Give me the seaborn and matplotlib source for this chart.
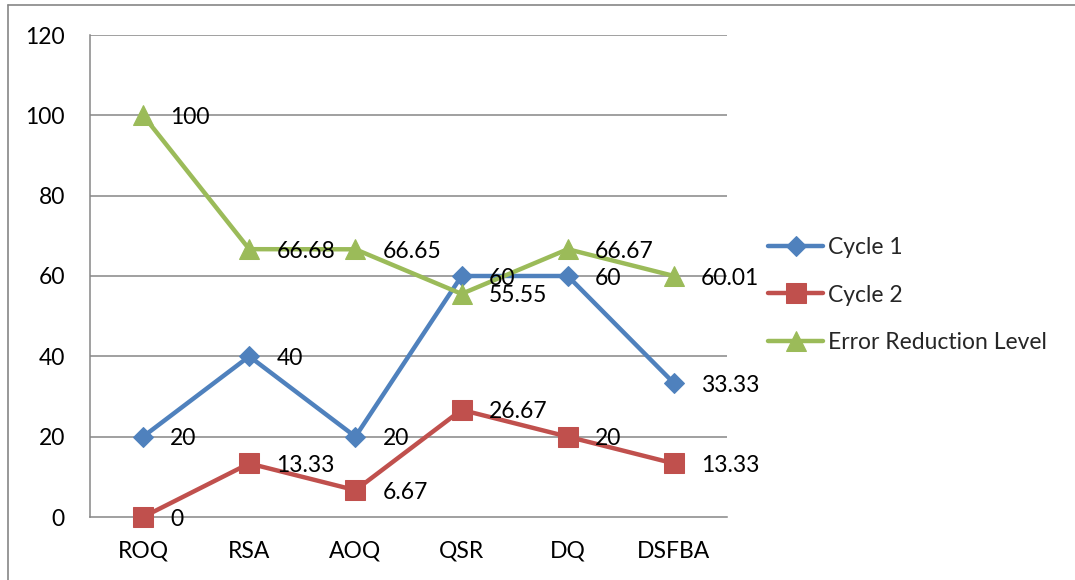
import matplotlib
matplotlib.use("Agg")
import matplotlib.pyplot as plt
from matplotlib.lines import Line2D
import seaborn as sns
import pandas as pd

categories = ["ROQ", "RSA", "AOQ", "QSR", "DQ", "DSFBA"]
cycle1 = [20, 40, 20, 60, 60, 33.33]
cycle2 = [0, 13.33, 6.67, 26.67, 20, 13.33]
error_reduction = [100, 66.68, 66.65, 55.55, 66.67, 60.01]
y_ticks = [0, 20, 40, 60, 80, 100, 120]

series = [
    ("Cycle 1", cycle1, "#4F81BD", "D", 10),
    ("Cycle 2", cycle2, "#C0504D", "s", 14),
    ("Error Reduction Level", error_reduction, "#9BBB59", "^", 14.5),
]

sns.set_theme(style="white")
plt.rcParams["font.family"] = ["Lato", "DejaVu Sans"]

W, H = 1075, 580
fig = plt.figure(figsize=(W / 100, H / 100), dpi=100)
ax = fig.add_axes([90 / W, 1 - 517 / H, (727 - 90) / W, (517 - 35) / H])

grid_color = "#868686"
pos = list(range(len(categories)))
fs = 16.5

for name, vals, color, marker, ms in series:
    df = pd.DataFrame({"x": pos, "y": vals})
    sns.lineplot(data=df, x="x", y="y", ax=ax, color=color, marker=marker,
                 markersize=ms, markeredgecolor=color, linewidth=3.2,
                 label=name, solid_capstyle="round", zorder=3, clip_on=False)
    for xi, v in zip(pos, vals):
        ax.annotate(f"{v:g}", (xi, v), xytext=(19.5, -1.5), textcoords="offset points",
                    va="center", ha="left", fontsize=fs, color="black", zorder=4)

ax.set_xlim(-0.5, len(categories) - 0.5)
ax.set_ylim(0, 120)
ax.set_yticks(y_ticks)
ax.set_yticklabels([str(t) for t in y_ticks])
ax.set_xticks(pos)
ax.set_xticklabels(categories)
ax.set_xlabel("")
ax.set_ylabel("")
ax.tick_params(axis="y", length=0, pad=18, labelsize=fs, labelcolor="black")
ax.tick_params(axis="x", length=0, pad=17, labelsize=fs, labelcolor="black")

for y in y_ticks[1:]:
    ax.axhline(y, color=grid_color, linewidth=1.1, zorder=1)
for side in ("top", "right"):
    ax.spines[side].set_visible(False)
for side in ("left", "bottom"):
    ax.spines[side].set_color(grid_color)
    ax.spines[side].set_linewidth(1.1)
    ax.spines[side].set_zorder(1)

ax.legend(loc="center left", bbox_to_anchor=(768 / W, 1 - 295 / H),
          bbox_transform=fig.transFigure, frameon=False, fontsize=fs,
          handlelength=2.4, handletextpad=0.2, labelspacing=1.15,
          borderpad=0, borderaxespad=0)

# outer chart frame
fig.add_artist(Line2D([8 / W, 1.0], [1 - 5 / H, 1 - 5 / H], transform=fig.transFigure,
                      color=grid_color, linewidth=1.2))
fig.add_artist(Line2D([8 / W, 8 / W], [0, 1 - 5 / H], transform=fig.transFigure,
                      color=grid_color, linewidth=1.2))

fig.savefig("out.png", dpi=100)
